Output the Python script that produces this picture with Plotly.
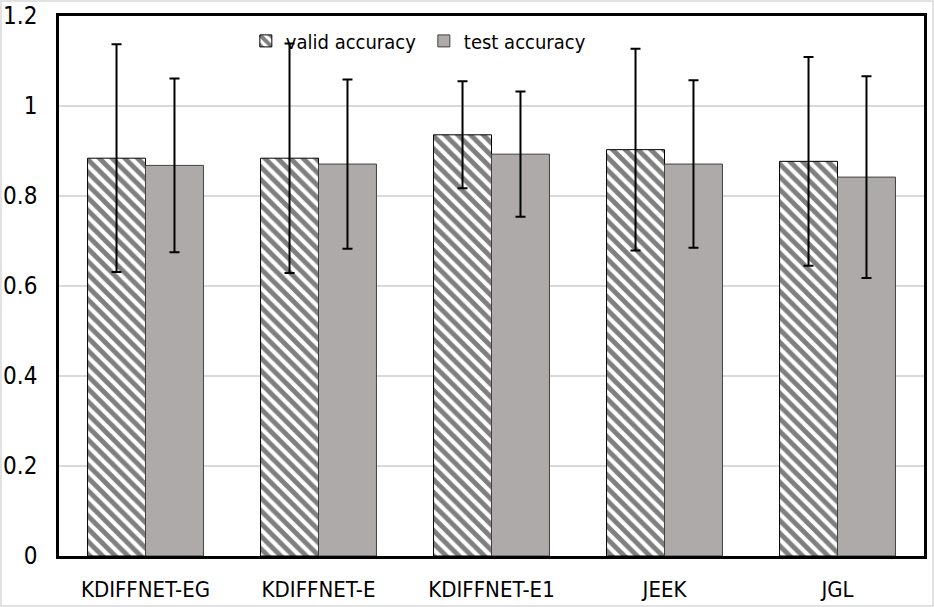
import plotly.graph_objects as go

categories = ["KDIFFNET-EG", "KDIFFNET-E", "KDIFFNET-E1", "JEEK", "JGL"]
valid_acc = [0.884, 0.884, 0.936, 0.903, 0.877]
valid_err = [0.253, 0.255, 0.119, 0.224, 0.232]
test_acc = [0.868, 0.871, 0.893, 0.871, 0.842]
test_err = [0.193, 0.188, 0.139, 0.186, 0.224]
y_ticks = [0, 0.2, 0.4, 0.6, 0.8, 1, 1.2]
y_tick_text = ["0", "0.2", "0.4", "0.6", "0.8", "1", "1.2"]

FONT = "DejaVu Sans Condensed, Liberation Sans, sans-serif"

fig = go.Figure()
fig.add_trace(go.Bar(
    name="valid accuracy", x=categories, y=valid_acc,
    marker=dict(color="white", line=dict(color="black", width=1),
                pattern=dict(shape="\\", fgcolor="black", bgcolor="white",
                             size=9, solidity=0.55)),
    error_y=dict(type="data", array=valid_err, color="black", thickness=2, width=5),
))
fig.add_trace(go.Bar(
    name="test accuracy", x=categories, y=test_acc,
    marker=dict(color="#aeaaaa", line=dict(color="#404040", width=1)),
    error_y=dict(type="data", array=test_err, color="black", thickness=2, width=5),
))

fig.update_layout(
    width=934, height=607,
    margin=dict(l=59, r=10, t=16, b=51, autoexpand=False),
    paper_bgcolor="white", plot_bgcolor="white",
    barmode="group", bargap=0.33, bargroupgap=0,
    font=dict(family=FONT, color="black"),
    showlegend=True,
    legend=dict(orientation="h", x=0.216, y=0.99, xanchor="left", yanchor="top",
                font=dict(size=20, family=FONT), bgcolor="rgba(0,0,0,0)",
                entrywidth=133, traceorder="normal"),
)
fig.update_xaxes(showline=True, linecolor="black", linewidth=2.5, mirror=True,
                 tickfont=dict(size=22), ticks="", ticklabelstandoff=12,
                 automargin=False)
fig.update_yaxes(range=[0, 1.2], tickvals=y_ticks, ticktext=y_tick_text,
                 showgrid=True, gridcolor="#d9d9d9", gridwidth=1.5,
                 showline=True, linecolor="black", linewidth=2.5, mirror=True,
                 zeroline=False, tickfont=dict(size=24), ticks="", ticklabelstandoff=14,
                 automargin=False)
fig.add_shape(type="rect", xref="paper", yref="paper", x0=-58/865, x1=1 + 9/865,
              y0=-50/540, y1=1 + 15/540, line=dict(color="#d9d9d9", width=1.5),
              layer="below")
fig.write_html("out.html", config={"displayModeBar": False},
               post_script="document.body.style.margin='0';document.body.style.padding='0';")
